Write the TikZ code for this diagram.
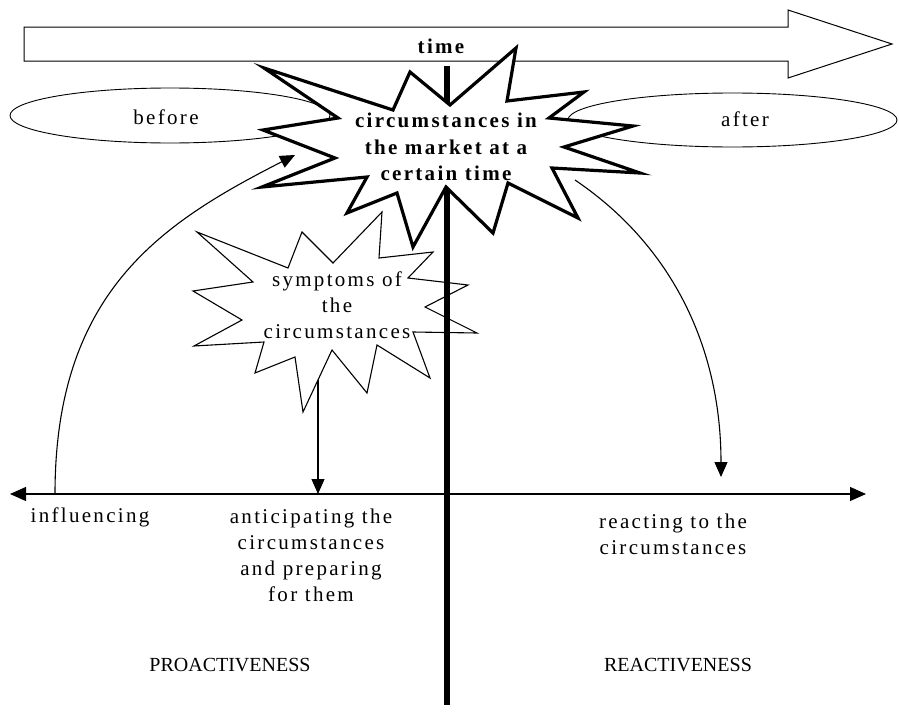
\documentclass[tikz,border=0pt]{standalone}
\usepackage{fontspec}
\setmainfont{Liberation Serif}[LetterSpace=11]
\usetikzlibrary{arrows.meta,shapes.geometric}
\begin{document}
\begin{tikzpicture}[x=1pt,y=-1pt,
  thinline/.style={line width=1.1pt},
  tip/.style={-{Triangle[length=15pt,width=13pt]}},
  lbl/.style={font=\fontsize{21}{26}\selectfont, align=center, inner sep=0pt},
  boldlbl/.style={font=\fontsize{21}{26.5}\selectfont\bfseries, align=center, inner sep=0pt},
  caps/.style={font=\fontsize{20}{26}\selectfont\addfontfeature{LetterSpace=0}, inner sep=0pt},
  oval/.style={draw, ellipse, line width=0.9pt, inner sep=0pt},
  burst/.style={fill=white, line join=miter, miter limit=20}
]
\useasboundingbox (0,0) rectangle (899,720);

% time arrow along the top
\draw[line width=1pt, fill=white]
  (24,27) -- (788,27) -- (788,10) -- (892,44) -- (788,78) -- (788,61) -- (24,61) -- cycle;
\node[boldlbl] (time) at (441,46) {time};

% before / after ovals
\node[oval, minimum width=320pt, minimum height=55pt] (beforeoval) at (170,115.5) {};
\node[oval, minimum width=329pt, minimum height=54pt] (afteroval) at (732.5,120) {};
\node[lbl] (before) at (166,117) {before};
\node[lbl] (after) at (745,119) {after};

% small burst: symptoms
\draw[burst, line width=1.1pt]
  (197,232) -- (288,268) -- (302,232) -- (333,263) -- (382,212) -- (379,258)
  -- (433,252) -- (408,278) -- (468,285) -- (425,307) -- (477,333) -- (413,332)
  -- (430,378) -- (377,345) -- (367,393) -- (332,350) -- (303,412) -- (295,357)
  -- (255,373) -- (264,342) -- (194,346) -- (242,320) -- (193,291) -- (253,282) -- cycle;
\node[lbl] (sym) at (337,305) {symptoms of\\the\\circumstances};

% horizontal axis
\coordinate (axisL) at (10,494);
\coordinate (axisR) at (866,494);
\draw[line width=1.2pt, {Triangle[length=16pt,width=14pt]}-{Triangle[length=16pt,width=14pt]}]
  (axisL) -- (axisR);

% dividing line
\coordinate (divtop) at (447,66);
\coordinate (divbot) at (447,705);
\draw[line width=5.5pt] (divtop) -- (divbot);

% big burst: circumstances in the market
\draw[burst, line width=3.2pt]
  (264,68) -- (393,110) -- (410,72) -- (450,105) -- (516,48) -- (507,101)
  -- (584,92) -- (549,118) -- (633,126) -- (564,147) -- (640,173) -- (552,168)
  -- (578,218) -- (508,183) -- (493,233) -- (446,187) -- (413,247) -- (397,193)
  -- (347,213) -- (367,177) -- (262,187) -- (335,158) -- (263,130) -- (338,118) -- cycle;
\node[boldlbl] (mkt) at (446,147) {circumstances in\\the market at a\\certain time};

% connectors
\coordinate (inflfoot) at (55,494);
\coordinate (inflhead) at (295,155);
\draw[thinline, tip] (inflfoot) .. controls (55,290) and (164,222) .. (inflhead);

\coordinate (symfoot) at (318,380);
\coordinate (anticipate) at (318,494);
\draw[thinline, tip] (symfoot) -- (anticipate);

\coordinate (mktfoot) at (575,180);
\coordinate (react) at (721,477);
\draw[thinline, tip] (mktfoot) .. controls (674,247) and (721,350) .. (react);

% axis labels
\node[lbl] (influencing) at (90,517) {influencing};
\node[lbl] (anticipating) at (311,555) {anticipating the\\circumstances\\and preparing\\for them};
\node[lbl] (reacting) at (673,534) {reacting to the\\circumstances};
\node[caps] (pro) at (230,665) {PROACTIVENESS};
\node[caps] (re) at (678,665) {REACTIVENESS};
\end{tikzpicture}
\end{document}
